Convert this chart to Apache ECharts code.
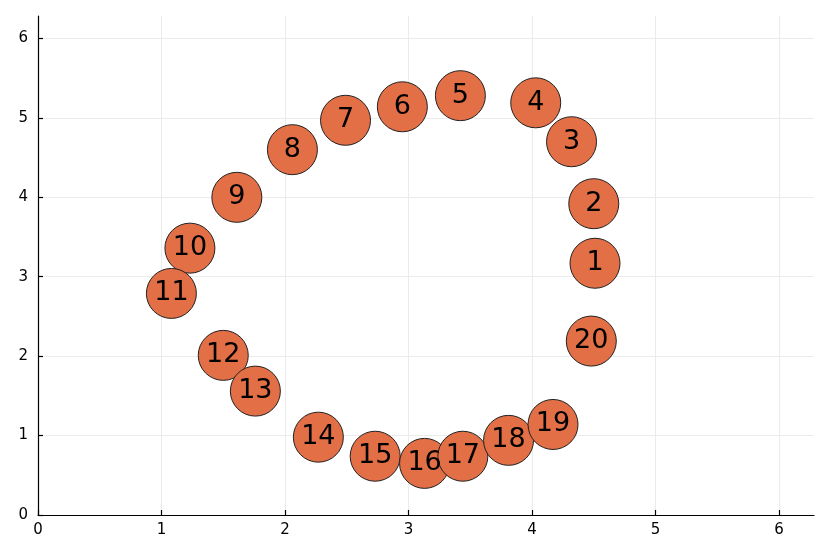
<!DOCTYPE html>
<html>
<head>
<meta charset="utf-8">
<script src="https://cdn.jsdelivr.net/npm/echarts@6/dist/echarts.min.js"></script>
<style>
  html, body { margin: 0; padding: 0; background: #fff; }
  #chart { width: 830px; height: 554px; }
</style>
</head>
<body>
<div id="chart"></div>
<script>
// point labels and positions
var labels = ['1', '2', '3', '4', '5', '6', '7', '8', '9', '10',
              '11', '12', '13', '14', '15', '16', '17', '18', '19', '20'];
var xs = [4.51, 4.50, 4.32, 4.03, 3.42, 2.95, 2.49, 2.06, 1.61, 1.23,
          1.08, 1.50, 1.76, 2.27, 2.73, 3.13, 3.44, 3.81, 4.17, 4.48];
var ys = [3.17, 3.92, 4.70, 5.19, 5.28, 5.14, 4.97, 4.60, 4.00, 3.36,
          2.79, 2.01, 1.56, 0.98, 0.74, 0.65, 0.74, 0.94, 1.14, 2.19];
var ticks = [0, 1, 2, 3, 4, 5, 6];

var axisMax = 2 * Math.PI;

function makeAxis() {
    return {
        type: 'value',
        min: 0,
        max: axisMax,
        interval: 1,
        axisLine: { show: true, lineStyle: { color: '#000', width: 1.2 } },
        axisTick: {
            show: true, inside: true, length: 5,
            customValues: ticks,
            lineStyle: { color: '#000', width: 1.2 }
        },
        axisLabel: {
            customValues: ticks,
            color: '#000',
            fontSize: 15,
            fontFamily: 'DejaVu Sans',
            margin: 8
        },
        splitLine: {
            show: true,
            lineStyle: {
                color: ['#ebebeb', '#ebebeb', '#ebebeb', '#ebebeb', '#ebebeb', '#ebebeb', '#ebebeb', 'rgba(0,0,0,0)'],
                width: 1
            }
        }
    };
}

var chart = echarts.init(document.getElementById('chart'), null, { renderer: 'canvas' });
var xAxis = makeAxis();
var yAxis = makeAxis();
yAxis.axisLabel.margin = 10;

chart.setOption({
    animation: false,
    backgroundColor: '#fff',
    grid: { left: 38, right: 16, top: 16, bottom: 39, containLabel: false },
    xAxis: xAxis,
    yAxis: yAxis,
    series: [{
        type: 'scatter',
        symbol: 'circle',
        symbolSize: 50,
        data: xs.map(function(x, i) { return [x, ys[i], labels[i]]; }),
        itemStyle: { color: '#e26f46', borderColor: '#222', borderWidth: 1, opacity: 1 },
        label: {
            show: true,
            position: 'inside',
            formatter: function(p) { return p.value[2]; },
            color: '#000',
            fontSize: 27,
            fontFamily: 'DejaVu Sans'
        },
        emphasis: { disabled: true }
    }]
});
</script>
</body>
</html>
